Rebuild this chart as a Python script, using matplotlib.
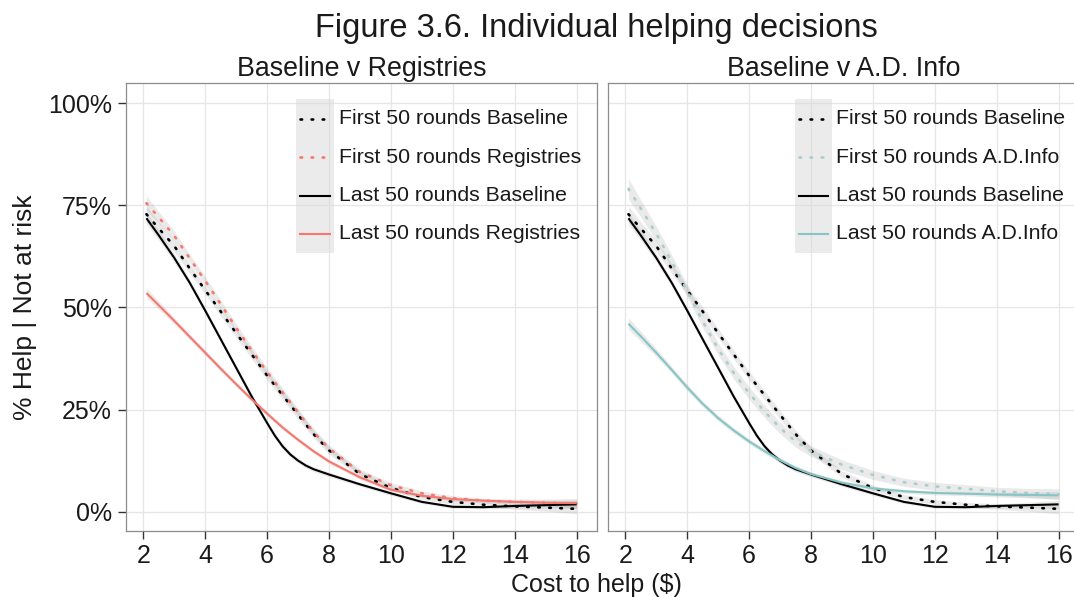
import matplotlib
matplotlib.use("Agg")
import matplotlib.pyplot as plt
from matplotlib.lines import Line2D
from matplotlib.patches import Rectangle

plt.rcParams['font.family'] = ['Liberation Sans', 'DejaVu Sans']

# ---------------- data ----------------
cost = [2.1, 2.5, 3, 3.5, 4, 4.5, 5, 5.5, 6, 6.5, 7, 7.5, 8, 9, 10, 11, 12, 13, 14, 15, 16]
cost_last_baseline = [2.1, 2.5, 3, 3.5, 4, 4.5, 5, 5.5, 6, 6.25, 6.5, 6.75, 7, 7.25, 7.5, 8, 9, 10, 11, 12,
                      13, 14, 15, 16]

first_baseline = [0.728, 0.693, 0.650, 0.595, 0.542, 0.490, 0.437, 0.385, 0.333, 0.285, 0.237, 0.190, 0.150,
                  0.092, 0.058, 0.036, 0.024, 0.017, 0.013, 0.010, 0.007]
last_baseline = [0.718, 0.676, 0.621, 0.560, 0.492, 0.422, 0.352, 0.282, 0.217, 0.186, 0.160, 0.140, 0.125,
                 0.113, 0.104, 0.091, 0.067, 0.045, 0.024, 0.012, 0.011, 0.014, 0.016, 0.018]
first_registries = [0.755, 0.720, 0.675, 0.620, 0.565, 0.508, 0.450, 0.395, 0.342, 0.292, 0.243, 0.195, 0.155,
                    0.097, 0.065, 0.045, 0.033, 0.027, 0.024, 0.022, 0.020]
last_registries = [0.535, 0.505, 0.467, 0.428, 0.389, 0.350, 0.312, 0.275, 0.240, 0.206, 0.176, 0.148, 0.123,
                   0.084, 0.054, 0.039, 0.031, 0.027, 0.024, 0.022, 0.021]
first_adinfo = [0.790, 0.742, 0.680, 0.612, 0.540, 0.466, 0.398, 0.340, 0.290, 0.245, 0.205, 0.172, 0.148,
                0.115, 0.090, 0.072, 0.062, 0.056, 0.050, 0.046, 0.043]
last_adinfo = [0.460, 0.429, 0.389, 0.347, 0.304, 0.264, 0.229, 0.199, 0.172, 0.148, 0.126, 0.107, 0.092,
               0.071, 0.057, 0.050, 0.046, 0.044, 0.042, 0.041, 0.040]

# half-width of the grey confidence ribbons
band_first_baseline = [0.020, 0.016, 0.014, 0.012, 0.011, 0.011, 0.011, 0.011, 0.011, 0.011, 0.011, 0.010, 0.009,
                       0.008, 0.007, 0.006, 0.006, 0.006, 0.007, 0.009, 0.012]
band_last_baseline = [0.015, 0.012, 0.010, 0.008, 0.008, 0.008, 0.008, 0.008, 0.007, 0.007, 0.007, 0.007, 0.006,
                      0.006, 0.006, 0.006, 0.005, 0.005, 0.004, 0.004, 0.004, 0.005, 0.007, 0.010]
band_first_registries = [0.018, 0.014, 0.012, 0.010, 0.010, 0.010, 0.010, 0.010, 0.010, 0.010, 0.009, 0.009, 0.008,
                         0.007, 0.006, 0.006, 0.006, 0.006, 0.007, 0.009, 0.012]
band_last_registries = [0.012, 0.010, 0.008, 0.007, 0.007, 0.006, 0.006, 0.006, 0.006, 0.006, 0.005, 0.005, 0.005,
                        0.005, 0.004, 0.004, 0.004, 0.004, 0.005, 0.006, 0.008]
band_first_adinfo = [0.025, 0.021, 0.018, 0.016, 0.015, 0.015, 0.015, 0.015, 0.015, 0.015, 0.014, 0.014, 0.013,
                     0.012, 0.011, 0.010, 0.010, 0.010, 0.010, 0.011, 0.013]
band_last_adinfo = [0.014, 0.012, 0.010, 0.008, 0.008, 0.007, 0.007, 0.007, 0.006, 0.006, 0.006, 0.006, 0.005,
                    0.005, 0.005, 0.005, 0.005, 0.005, 0.006, 0.007, 0.009]

x_ticks = [2, 4, 6, 8, 10, 12, 14, 16]
y_ticks = [0, 0.25, 0.5, 0.75, 1.0]
y_ticklabels = ["0%", "25%", "50%", "75%", "100%"]

panel_titles = ["Baseline v Registries", "Baseline v A.D. Info"]
legend_labels = [
    ["First 50 rounds Baseline", "First 50 rounds Registries", "Last 50 rounds Baseline", "Last 50 rounds Registries"],
    ["First 50 rounds Baseline", "First 50 rounds A.D.Info", "Last 50 rounds Baseline", "Last 50 rounds A.D.Info"],
]

RED = "#F8766D"
TEAL = "#86C5C5"
TEAL_DOT = "#A9CDCD"
BLACK = "#000000"
TXT = "#1a1a1a"

W, H = 1074, 597
fig = plt.figure(figsize=(W / 100, H / 100), dpi=100)


def fx(px):
    return px / W


def fy(py):
    return 1 - py / H


DOT = (0, (0.6, 3.6))

panels = [
    dict(left=125.7, series=[
        (cost, first_baseline, band_first_baseline, BLACK, DOT, 1.9),
        (cost, first_registries, band_first_registries, RED, DOT, 1.9),
        (cost_last_baseline, last_baseline, band_last_baseline, BLACK, '-', 1.5),
        (cost, last_registries, band_last_registries, RED, '-', 1.5),
    ], key_left=296, text_left=339),
    dict(left=607.7, series=[
        (cost, first_baseline, band_first_baseline, BLACK, DOT, 1.9),
        (cost, first_adinfo, band_first_adinfo, TEAL_DOT, DOT, 1.9),
        (cost_last_baseline, last_baseline, band_last_baseline, BLACK, '-', 1.5),
        (cost, last_adinfo, band_last_adinfo, TEAL, '-', 1.5),
    ], key_left=794.5, text_left=836.5),
]

top_px, bot_px, width_px = 83.0, 530.7, 471.3

for i, p in enumerate(panels):
    ax = fig.add_axes([fx(p['left']), fy(bot_px), width_px / W, (bot_px - top_px) / H])
    ax.set_xlim(1.43, 16.66)
    ax.set_ylim(-0.0465, 1.049)
    ax.set_xticks(x_ticks)
    ax.set_yticks(y_ticks)
    ax.grid(True, color="#E6E6E6", lw=0.9, zorder=0)
    ax.set_axisbelow(True)
    for s in ax.spines.values():
        s.set_color("#8C8C8C")
        s.set_linewidth(0.9)
    ax.tick_params(axis='both', length=5.5, width=1.0, color="#333333", labelsize=18,
                   labelcolor=TXT)
    ax.tick_params(axis='x', pad=4)
    ax.tick_params(axis='y', pad=4.5)
    ax.set_xticklabels([str(t) for t in x_ticks])
    if i == 0:
        ax.set_yticklabels(y_ticklabels)
    else:
        ax.tick_params(axis='y', length=0, labelleft=False)
    for xs, vals, band, col, ls, lw in p['series']:
        lo = [v - b for v, b in zip(vals, band)]
        hi = [v + b for v, b in zip(vals, band)]
        ax.fill_between(xs, lo, hi, color="#999999", alpha=0.2, lw=0, zorder=2)
    for xs, vals, band, col, ls, lw in p['series']:
        ax.plot(xs, vals, color=col, linestyle=ls, lw=lw, zorder=3,
                dash_capstyle='round', solid_capstyle='butt', solid_joinstyle='round')

    # strip title
    fig.text(fx(p['left'] + width_px / 2), fy(76), panel_titles[i], fontsize=19.3,
             ha='center', va='baseline', color=TXT)

    # legend drawn by hand: grey key column + entries
    kl = p['key_left']
    fig.patches.append(Rectangle((fx(kl), fy(252.5)), 37.5 / W, (252.5 - 98.5) / H,
                                 transform=fig.transFigure, facecolor="#D9D9D9", alpha=0.5,
                                 edgecolor='none', zorder=5))
    ys = [119.0, 157.0, 195.5, 233.5]
    for (xs, vals, band, col, ls, lw), lab, yy in zip(p['series'], legend_labels[i], ys):
        fig.lines.append(Line2D([fx(kl + 4), fx(kl + 33.5)], [fy(yy), fy(yy)], transform=fig.transFigure,
                                color=col, linestyle=ls, lw=lw, dash_capstyle='round', zorder=6))
        fig.text(fx(p['text_left']), fy(yy), lab, fontsize=15.3, va='center', ha='left', color=TXT)

fig.text(fx(596), fy(37), "Figure 3.6. Individual helping decisions", fontsize=23.5,
         ha='center', va='baseline', color=TXT)
fig.text(fx(596), fy(592), "Cost to help ($)", fontsize=18, ha='center', va='baseline', color=TXT)
fig.text(fx(25.5), fy(307), "% Help | Not at risk", fontsize=19, ha='center', va='center',
         rotation=90, color=TXT)

fig.savefig("out.png", dpi=100, facecolor="white")
